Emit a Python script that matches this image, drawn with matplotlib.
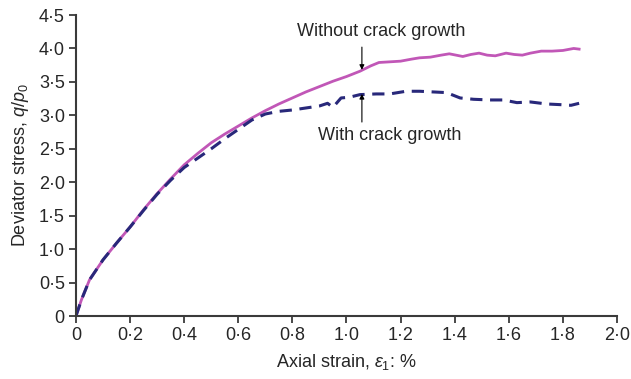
import matplotlib
matplotlib.use("Agg")
import matplotlib.pyplot as plt

# Curve without crack growth (solid)
strain_without = [0.0, 0.02, 0.05, 0.1, 0.15, 0.2, 0.25, 0.3, 0.35, 0.4, 0.45, 0.5,
                  0.55, 0.6, 0.65, 0.7, 0.75, 0.8, 0.85, 0.9, 0.95, 1.0, 1.05,
                  1.09, 1.12, 1.16, 1.2, 1.24, 1.27, 1.31, 1.35, 1.38, 1.43, 1.46,
                  1.49, 1.52, 1.55, 1.59, 1.62, 1.65, 1.68, 1.72, 1.76, 1.8, 1.84, 1.86]
q_without = [0.0, 0.24, 0.54, 0.84, 1.09, 1.33, 1.59, 1.83, 2.05, 2.26, 2.43, 2.59,
             2.72, 2.84, 2.96, 3.07, 3.17, 3.26, 3.35, 3.43, 3.51, 3.58, 3.66,
             3.74, 3.79, 3.80, 3.81, 3.84, 3.86, 3.87, 3.90, 3.92, 3.88, 3.91,
             3.93, 3.90, 3.89, 3.93, 3.91, 3.90, 3.93, 3.96, 3.96, 3.97, 4.00, 3.99]

# Curve with crack growth (dashed)
strain_with = [0.0, 0.02, 0.05, 0.1, 0.15, 0.2, 0.25, 0.3, 0.35, 0.4, 0.45, 0.5,
               0.55, 0.6, 0.65, 0.7, 0.75, 0.8, 0.85, 0.9, 0.93, 0.95, 0.98, 1.01,
               1.05, 1.11, 1.16, 1.22, 1.27, 1.32, 1.37, 1.42, 1.47, 1.53, 1.58,
               1.63, 1.68, 1.74, 1.79, 1.83, 1.86]
q_with = [0.0, 0.24, 0.54, 0.84, 1.09, 1.33, 1.58, 1.82, 2.03, 2.22, 2.36, 2.50,
          2.65, 2.79, 2.93, 3.02, 3.06, 3.08, 3.11, 3.14, 3.18, 3.12, 3.26, 3.27,
          3.31, 3.32, 3.32, 3.36, 3.36, 3.35, 3.34, 3.26, 3.24, 3.23, 3.23,
          3.19, 3.20, 3.17, 3.16, 3.15, 3.18]

x_ticks = [0, 0.2, 0.4, 0.6, 0.8, 1.0, 1.2, 1.4, 1.6, 1.8, 2.0]
y_ticks = [0, 0.5, 1.0, 1.5, 2.0, 2.5, 3.0, 3.5, 4.0, 4.5]


def dot_label(v):
    if v == 0:
        return "0"
    return f"{v:.1f}".replace(".", "\u00b7")


plt.rcParams["font.family"] = ["Liberation Sans", "DejaVu Sans"]
plt.rcParams["mathtext.fontset"] = "custom"
plt.rcParams["mathtext.rm"] = "Liberation Sans"
plt.rcParams["mathtext.it"] = "Liberation Sans:italic"

text_color = "#262626"
fs = 13

fig = plt.figure(figsize=(6.31, 3.79), dpi=100)
ax = fig.add_axes([0.1204, 0.1662, 0.8574, 0.7942])

ax.plot(strain_without, q_without, color="#c157b7", linewidth=2.0)
ax.plot(strain_with, q_with, color="#28287a", linewidth=2.2,
        linestyle=(0, (4, 2.5)))

ax.set_xlim(0, 2.0)
ax.set_ylim(0, 4.5)
ax.set_xticks(x_ticks)
ax.set_xticklabels([dot_label(v) for v in x_ticks])
ax.set_yticks(y_ticks)
ax.set_yticklabels([dot_label(v) for v in y_ticks])

for side in ["top", "right"]:
    ax.spines[side].set_visible(False)
for side in ["left", "bottom"]:
    ax.spines[side].set_color("#3a3a3a")
    ax.spines[side].set_linewidth(1.5)
ax.tick_params(direction="out", length=5, width=1.3, color="#3a3a3a",
               labelsize=fs, labelcolor=text_color, pad=3)

ax.set_xlabel(r"Axial strain, $\varepsilon_1$: %", fontsize=fs, color=text_color,
              labelpad=6)
ax.set_ylabel(r"Deviator stress, $q/p_0$", fontsize=fs, color=text_color,
              labelpad=6)

ax.annotate("", xy=(1.057, 3.68), xytext=(1.057, 4.02),
            arrowprops=dict(arrowstyle="-|>", color="black", lw=0.8,
                            mutation_scale=7, shrinkA=0, shrinkB=0))
ax.text(1.128, 4.25, "Without crack growth", fontsize=fs, color=text_color,
        ha="center", va="center")

ax.annotate("", xy=(1.057, 3.32), xytext=(1.057, 2.90),
            arrowprops=dict(arrowstyle="-|>", color="black", lw=0.8,
                            mutation_scale=7, shrinkA=0, shrinkB=0))
ax.text(1.16, 2.70, "With crack growth", fontsize=fs, color=text_color,
        ha="center", va="center")

fig.savefig("out.png", dpi=100)
